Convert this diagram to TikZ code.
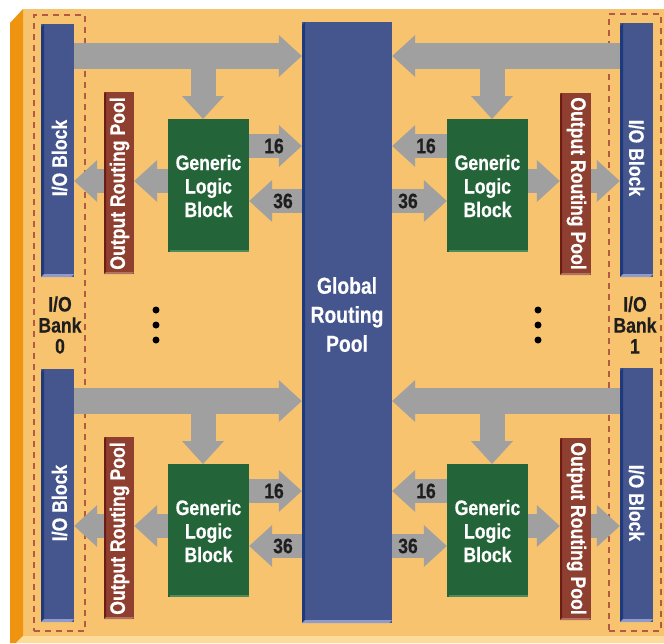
\documentclass[tikz,border=0pt]{standalone}
\usepackage{fontspec}
\newfontfamily\cond[FakeStretch=0.84,FakeBold=0.4]{Liberation Sans}
\usetikzlibrary{calc,fit}
\definecolor{panel}{HTML}{F8C36E}
\definecolor{paneldark}{HTML}{EE9410}
\definecolor{panellight}{HTML}{FDDC9B}
\definecolor{bluec}{HTML}{45568F}
\definecolor{bluedark}{HTML}{1E3A7C}
\definecolor{bluelight}{HTML}{8E9BCB}
\definecolor{greenc}{HTML}{236439}
\definecolor{greenlight}{HTML}{4E8B5A}
\definecolor{redc}{HTML}{8E3F30}
\definecolor{reddark}{HTML}{6A1C15}
\definecolor{redlight}{HTML}{B0735F}
\definecolor{arrowgray}{HTML}{A0A0A0}
\definecolor{dashc}{HTML}{B25A46}
\definecolor{txtdark}{HTML}{1E1E1E}
\newcommand\blockarrow[5]{%
  \draw[line width=#5pt, arrowgray] (#1) -- ($(#2)+({-22*(#3)},{-22*(#4)})$);
  \fill[arrowgray] ($(#2)+({-23*(#3)+21*(#4)},{-23*(#4)-21*(#3)})$) -- (#2) -- ($(#2)+({-23*(#3)-21*(#4)},{-23*(#4)+21*(#3)})$) -- cycle;}
\tikzset{
  iobox/.style={fill=bluec, inner sep=0pt, path picture={
    \fill[bluedark] ([yshift=-3pt]path picture bounding box.north west) -- ([xshift=3pt]path picture bounding box.north west) -- ([xshift=3pt,yshift=3pt]path picture bounding box.south west) -- (path picture bounding box.south west) -- cycle;
    \fill[bluelight] (path picture bounding box.south west) -- ([xshift=3pt,yshift=3pt]path picture bounding box.south west) -- ([yshift=3pt]path picture bounding box.south east) -- ([xshift=-3pt]path picture bounding box.south east) -- cycle;}},
  orpbox/.style={fill=redc, inner sep=0pt, path picture={
    \fill[reddark] ([yshift=-2pt]path picture bounding box.north west) -- ([xshift=2pt]path picture bounding box.north west) -- ([xshift=2pt,yshift=2pt]path picture bounding box.south west) -- (path picture bounding box.south west) -- cycle;
    \fill[redlight] (path picture bounding box.south west) -- ([xshift=2pt,yshift=2pt]path picture bounding box.south west) -- ([yshift=2pt]path picture bounding box.south east) -- ([xshift=-2pt]path picture bounding box.south east) -- cycle;}},
  glbbox/.style={fill=greenc, inner sep=0pt, path picture={
    \fill[greenlight] ([xshift=2pt]path picture bounding box.south west) -- ([xshift=2pt,yshift=2pt]path picture bounding box.south west) -- ([yshift=2pt]path picture bounding box.south east) -- (path picture bounding box.south east) -- cycle;}},
  bankbox/.style={draw=dashc, line width=1.3pt, dash pattern=on 6pt off 5pt, inner sep=0pt},
  wtxt/.style={text=white, inner sep=0pt, font=\cond\bfseries\fontsize{21}{23.5}\selectfont},
  dtxt/.style={text=txtdark, inner sep=0pt, font=\cond\bfseries\fontsize{21}{21}\selectfont},
  dotnode/.style={circle, fill=black, inner sep=0pt, minimum size=7pt}
}
\begin{document}
\begin{tikzpicture}[x=1pt,y=-1pt]
\useasboundingbox (0,0) rectangle (664,643);
\fill[white] (0,0) rectangle (664,643);
% panel
\fill[panel] (23,9) rectangle (664,636);
\fill[paneldark] (10,23) -- (23,9) -- (23,636) -- (16,643) -- (10,643) -- cycle;
\fill[panellight] (23,636) -- (664,636) -- (664,643) -- (16,643) -- cycle;
% bank boxes
\node[bankbox, fit={(34,15) (85,631)}] (bank0) {};
\node[bankbox, fit={(609,14) (661,631)}] (bank1) {};
% global routing pool
\node[iobox, fit={(302,22) (392,623)}] (grp) {};
\node[wtxt, font=\cond\bfseries\fontsize{23}{29}\selectfont, align=center] (grpt) at (347,314.5) {Global\\Routing\\Pool};
% bank labels
\node[dtxt, align=center] (b0t) at (60,325) {I/O\\Bank\\0};
\node[dtxt, align=center] (b1t) at (635,325) {I/O\\Bank\\1};
% dots
\node[dotnode] (dl1) at (156,310) {};
\node[dotnode] (dl2) at (156,325) {};
\node[dotnode] (dl3) at (156,340) {};
\node[dotnode] (dr1) at (538,310) {};
\node[dotnode] (dr2) at (538,325) {};
\node[dotnode] (dr3) at (538,340) {};
\foreach \s/\o in {a/0,b/345}{
  \coordinate (r1\s) at (0,56+\o);
  \coordinate (c16\s) at (0,146+\o);
  \coordinate (c36\s) at (0,201+\o);
  \coordinate (co\s) at (0,181+\o);
  \coordinate (dL\s) at (203,119+\o);
  \coordinate (dR\s) at (492,119+\o);
  \node[iobox, fit={(41,24+\o) (74,277+\o)}] (ioL\s) {};
  \node[iobox, fit={(620,23+\o) (653,277+\o)}] (ioR\s) {};
  \node[orpbox, fit={(104,92+\o) (134,274+\o)}] (orpL\s) {};
  \node[orpbox, fit={(560,93+\o) (591,275+\o)}] (orpR\s) {};
  \node[glbbox, fit={(168,119+\o) (249,252+\o)}] (glbL\s) {};
  \node[glbbox, fit={(447,119+\o) (528,252+\o)}] (glbR\s) {};
  \node[wtxt, rotate=90] (ioLt\s) at (59.5,158+\o) {I/O Block};
  \node[wtxt, rotate=-90] (ioRt\s) at (636.5,158+\o) {I/O Block};
  \node[wtxt, rotate=90] (orpLt\s) at (119.5,183.5+\o) {Output Routing Pool};
  \node[wtxt, rotate=-90] (orpRt\s) at (576.5,183.5+\o) {Output Routing Pool};
  \node[wtxt, align=center] (glbLt\s) at (208.5,186+\o) {Generic\\Logic\\Block};
  \node[wtxt, align=center] (glbRt\s) at (487.5,186+\o) {Generic\\Logic\\Block};
  % left arrows
  \blockarrow{ioL\s.east |- r1\s}{grp.west |- r1\s}{1}{0}{26}
  \blockarrow{dL\s |- r1\s}{dL\s}{0}{1}{25}
  \blockarrow{glbL\s.east |- c16\s}{grp.west |- c16\s}{1}{0}{24}
  \blockarrow{grp.west |- c36\s}{glbL\s.east |- c36\s}{-1}{0}{24}
  \blockarrow{glbL\s.west |- co\s}{orpL\s.east |- co\s}{-1}{0}{24}
  \blockarrow{orpL\s.west |- co\s}{ioL\s.east |- co\s}{-1}{0}{24}
  % right arrows
  \blockarrow{ioR\s.west |- r1\s}{grp.east |- r1\s}{-1}{0}{26}
  \blockarrow{dR\s |- r1\s}{dR\s}{0}{1}{25}
  \blockarrow{glbR\s.west |- c16\s}{grp.east |- c16\s}{-1}{0}{24}
  \blockarrow{grp.east |- c36\s}{glbR\s.west |- c36\s}{1}{0}{24}
  \blockarrow{glbR\s.east |- co\s}{orpR\s.west |- co\s}{1}{0}{24}
  \blockarrow{orpR\s.east |- co\s}{ioR\s.west |- co\s}{1}{0}{24}
  % numbers
  \node[dtxt] (nL16\s) at (274,146+\o) {16};
  \node[dtxt] (nL36\s) at (283,201+\o) {36};
  \node[dtxt] (nR16\s) at (426,146+\o) {16};
  \node[dtxt] (nR36\s) at (408,201+\o) {36};
}
\end{tikzpicture}
\end{document}
